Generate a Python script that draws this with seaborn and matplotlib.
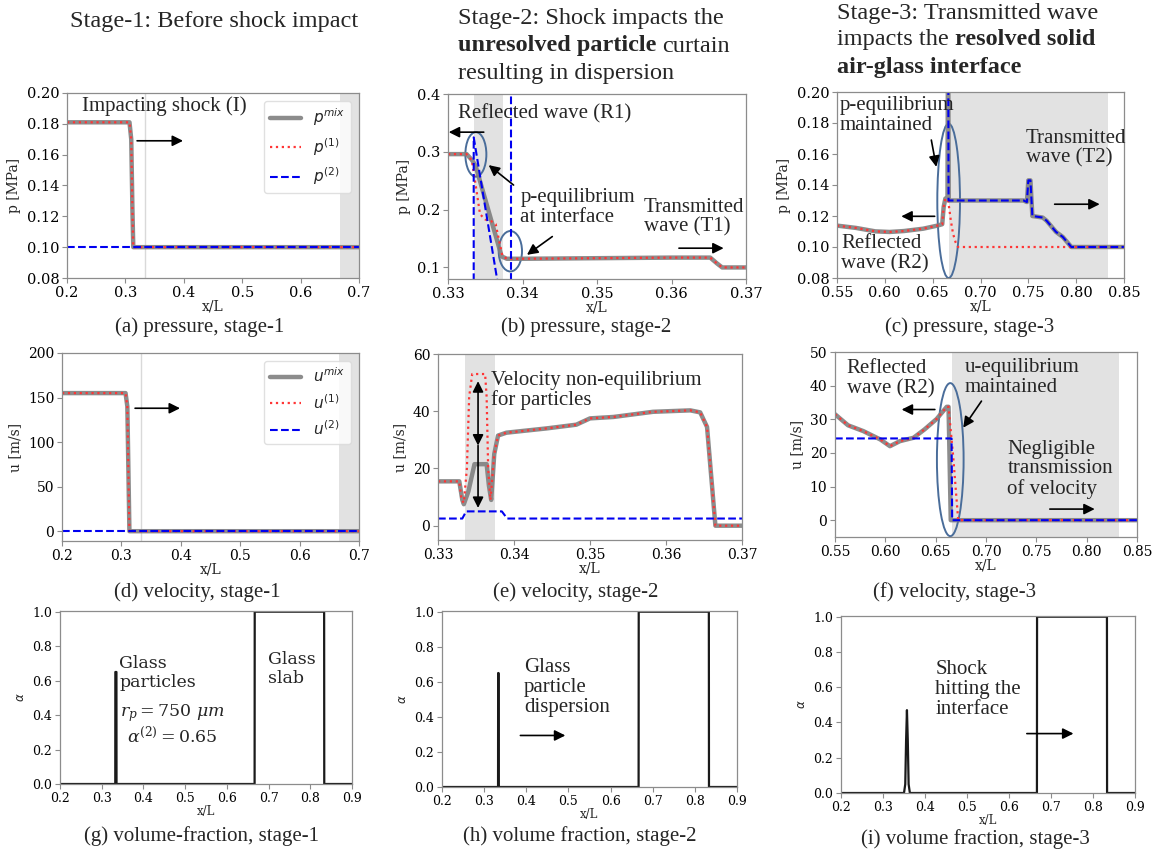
import matplotlib
matplotlib.use("Agg")
import matplotlib.pyplot as plt
from matplotlib.patches import Ellipse
from matplotlib.ticker import FormatStrFormatter
import seaborn as sns

# ---------------- values ----------------
# stage-1 : x/L from 0.2 to 0.7
x_s1 = [0.200, 0.307, 0.310, 0.312, 0.3135, 0.700]
p_mix_s1 = [0.181, 0.181, 0.170, 0.125, 0.100, 0.100]
u_mix_s1 = [155.0, 155.0, 140.0, 60.0, 0.0, 0.0]
x_flat_s1 = [0.200, 0.700]
p_part_s1 = [0.100, 0.100]
u_part_s1 = [0.0, 0.0]

# stage-2 : x/L from 0.33 to 0.37
x_p_s2 = [0.3300, 0.3325, 0.3332, 0.3337, 0.3372, 0.3379, 0.3400, 0.3500,
          0.3600, 0.3652, 0.3661, 0.3668, 0.3700]
p_mix_s2 = [0.296, 0.296, 0.286, 0.276, 0.119, 0.115, 0.115, 0.116,
            0.117, 0.117, 0.107, 0.100, 0.100]
x_p1_s2 = [0.3300, 0.3325, 0.3332, 0.3338, 0.3343, 0.3350, 0.3358, 0.3364,
           0.3368, 0.3373, 0.3379, 0.3400, 0.3500, 0.3600, 0.3652, 0.3661,
           0.3668, 0.3700]
p_gas_s2 = [0.296, 0.296, 0.285, 0.235, 0.192, 0.183, 0.180, 0.175,
            0.150, 0.120, 0.115, 0.115, 0.116, 0.117, 0.117, 0.107,
            0.100, 0.100]
x_p2a_s2 = [0.33345, 0.33345, 0.33665]
p_part_a_s2 = [0.00, 0.325, 0.075]
x_p2b_s2 = [0.33846, 0.33846]
p_part_b_s2 = [0.00, 0.50]

x_u_s2 = [0.3300, 0.3328, 0.3332, 0.3334, 0.3340, 0.3348, 0.3364, 0.3367,
          0.3370, 0.3374, 0.3379, 0.3390, 0.3443, 0.3482, 0.3500, 0.3531,
          0.3583, 0.3632, 0.3645, 0.3654, 0.3665, 0.3700]
u_mix_s2 = [15.5, 15.5, 9.0, 7.5, 12.0, 21.5, 21.5, 14.0,
            9.0, 25.0, 31.5, 32.5, 34.0, 35.3, 37.5, 38.0,
            39.8, 40.3, 39.6, 34.5, 0.0, 0.0]
x_u1_s2 = [0.3300, 0.3328, 0.3331, 0.3334, 0.3338, 0.3341, 0.3345, 0.3348,
           0.3362, 0.3364, 0.3366, 0.3369, 0.3374, 0.3379, 0.3390, 0.3443,
           0.3482, 0.3500, 0.3531, 0.3583, 0.3632, 0.3645, 0.3654, 0.3665,
           0.3700]
u_gas_s2 = [15.5, 15.5, 9.0, 8.0, 20.0, 45.0, 53.0, 53.0,
            53.0, 45.0, 20.0, 9.0, 25.0, 31.5, 32.5, 34.0,
            35.3, 37.5, 38.0, 39.8, 40.3, 39.6, 34.5, 0.0,
            0.0]
x_u2_s2 = [0.3300, 0.3332, 0.3337, 0.3384, 0.3391, 0.3700]
u_part_s2 = [2.5, 2.5, 5.0, 5.0, 2.5, 2.5]

# stage-3 : x/L from 0.55 to 0.85
x_p_s3 = [0.550, 0.570, 0.590, 0.605, 0.620, 0.640, 0.655, 0.660, 0.6615,
          0.6633, 0.6655, 0.6661, 0.6668, 0.745, 0.7485, 0.7500, 0.7522,
          0.7542, 0.765, 0.769, 0.779, 0.786, 0.795, 0.850]
p_mix_s3 = [0.1138, 0.1123, 0.1101, 0.1097, 0.1103, 0.1118, 0.1138, 0.1147, 0.1259,
            0.1313, 0.1315, 0.2600, 0.1300, 0.1300, 0.1290, 0.1430, 0.1430,
            0.1200, 0.1190, 0.1170, 0.1097, 0.1065, 0.1000, 0.1000]
x_p1_s3 = [0.550, 0.570, 0.590, 0.605, 0.620, 0.640, 0.655, 0.660, 0.6615,
           0.6633, 0.6662, 0.6690, 0.6713, 0.6740, 0.6765, 0.850]
p_gas_s3 = [0.1138, 0.1123, 0.1101, 0.1097, 0.1103, 0.1118, 0.1138, 0.1147, 0.1259,
            0.1313, 0.1300, 0.1170, 0.1086, 0.1030, 0.1000, 0.1000]
x_p2_s3 = [0.6662, 0.6666, 0.745, 0.7485, 0.7500, 0.7522, 0.7542, 0.765,
           0.769, 0.779, 0.786, 0.795, 0.850]
p_part_s3 = [0.260, 0.130, 0.130, 0.129, 0.143, 0.143, 0.120, 0.119,
             0.117, 0.1097, 0.1065, 0.100, 0.100]

x_u_s3 = [0.550, 0.563, 0.578, 0.595, 0.6046, 0.6145, 0.628, 0.639, 0.651,
          0.661, 0.6628, 0.6650, 0.6665, 0.850]
u_mix_s3 = [31.5, 28.2, 26.5, 24.0, 22.0, 23.5, 24.5, 27.0, 30.1,
            33.7, 33.7, 0.0, 0.0, 0.0]
x_u1_s3 = [0.550, 0.563, 0.578, 0.595, 0.6046, 0.6145, 0.628, 0.639, 0.651,
           0.661, 0.6628, 0.6655, 0.6674, 0.6700, 0.6724, 0.850]
u_gas_s3 = [31.5, 28.2, 26.5, 24.0, 22.0, 23.5, 24.5, 27.0, 30.1,
            33.7, 33.7, 25.0, 19.0, 9.0, 0.0, 0.0]
x_u2_s3 = [0.550, 0.6658, 0.6664, 0.850]
u_part_s3 = [24.3, 24.3, 0.0, 0.0]

# volume fraction, x/L from 0.2 to 0.9
x_a_s1 = [0.20, 0.3325, 0.3327, 0.3353, 0.3355, 0.6665, 0.6668, 0.8332, 0.8335, 0.90]
a_s1 = [0.0, 0.0, 0.65, 0.65, 0.0, 0.0, 1.0, 1.0, 0.0, 0.0]
x_a_s2 = [0.20, 0.3330, 0.3332, 0.3343, 0.3345, 0.6665, 0.6668, 0.8332, 0.8335, 0.90]
a_s2 = [0.0, 0.0, 0.65, 0.65, 0.0, 0.0, 1.0, 1.0, 0.0, 0.0]
x_a_s3 = [0.20, 0.350, 0.353, 0.355, 0.357, 0.359, 0.361, 0.364,
          0.6665, 0.6668, 0.8332, 0.8335, 0.90]
a_s3 = [0.0, 0.0, 0.05, 0.30, 0.47, 0.30, 0.05, 0.0,
        0.0, 1.0, 1.0, 0.0, 0.0]

# ---------------- styling ----------------
sns.set_theme(style="ticks", rc={
    "axes.edgecolor": "0.55", "axes.linewidth": 0.9,
    "xtick.color": "0.55", "ytick.color": "0.55",
    "xtick.labelcolor": "black", "ytick.labelcolor": "black",
})
plt.rcParams["font.family"] = ["DejaVu Serif"]

TIMES = "Liberation Serif"
GRAY = dict(color="#808080", lw=3.2, alpha=0.9, ls="-")
RED = dict(color="#ff3535", lw=1.6, ls=":")
BLUE = dict(color="#0000f0", lw=1.5, ls="--")
BLACK = dict(color="#1a1a1a", lw=1.6, ls="-")
SHADE = "#e2e2e2"
RING = "#4a6d9a"
ARROW = dict(arrowstyle="-|>", color="black", lw=1.2, mutation_scale=16,
             shrinkA=0, shrinkB=0)

W, H = 1170, 852
fig = plt.figure(figsize=(W / 100, H / 100), dpi=100)


def make_axes(left, right, top, bottom):
    return fig.add_axes([left / W, 1 - bottom / H, (right - left) / W, (bottom - top) / H])


def curve(ax, x, y, style, label=None):
    sns.lineplot(x=x, y=y, ax=ax, sort=False, estimator=None, label=label, **style)


def finish(ax, xlim, ylim, xticks, yticks, xfmt, yfmt, ylabel, tsize, lsize, pad=0):
    ax.set_xlim(xlim)
    ax.set_ylim(ylim)
    ax.set_xticks(xticks)
    ax.set_yticks(yticks)
    ax.xaxis.set_major_formatter(FormatStrFormatter(xfmt))
    ax.yaxis.set_major_formatter(FormatStrFormatter(yfmt))
    ax.tick_params(labelsize=tsize, length=3.5, width=0.8, pad=2)
    ax.set_xlabel("x/L", fontsize=lsize, labelpad=pad)
    ax.set_ylabel(ylabel, fontsize=lsize)


def note(ax, x, y, s, size=15, **kw):
    ax.text(x, y, s, fontsize=size, family=TIMES, ha="left", va="center",
            linespacing=1.05, **kw)


def arrow(ax, tail, head, style=ARROW):
    ax.annotate("", xy=head, xytext=tail, arrowprops=style)


# ---- (a) pressure, stage-1
ax = make_axes(67, 359, 93, 278)
ax.axvspan(0.6667, 0.70, color=SHADE, lw=0)
ax.axvline(0.3333, color="0.85", lw=1.0)
curve(ax, x_s1, p_mix_s1, GRAY, r"$p^{mix}$")
curve(ax, x_s1, p_mix_s1, RED, r"$p^{(1)}$")
curve(ax, x_flat_s1, p_part_s1, BLUE, r"$p^{(2)}$")
ax.legend(loc="upper right", fontsize=11, framealpha=0.8, edgecolor="0.85")
finish(ax, (0.2, 0.7), (0.08, 0.20), [0.2, 0.3, 0.4, 0.5, 0.6, 0.7],
       [0.08, 0.10, 0.12, 0.14, 0.16, 0.18, 0.20], "%.1f", "%.2f", "p [MPa]", 10.5, 10)
note(ax, 0.2257, 0.1916, "Impacting shock (I)")
arrow(ax, (0.320, 0.169), (0.3987, 0.169))

# ---- (b) pressure, stage-2
ax = make_axes(448, 746, 94, 279)
ax.axvspan(0.33353, 0.33738, color=SHADE, lw=0)
curve(ax, x_p_s2, p_mix_s2, GRAY)
curve(ax, x_p1_s2, p_gas_s2, RED)
curve(ax, x_p2a_s2, p_part_a_s2, BLUE)
curve(ax, x_p2b_s2, p_part_b_s2, BLUE)
ax.add_patch(Ellipse((0.33374, 0.2955), 0.00282, 0.077, fill=False, ec=RING, lw=1.4))
ax.add_patch(Ellipse((0.33837, 0.128), 0.00313, 0.070, fill=False, ec=RING, lw=1.4))
finish(ax, (0.33, 0.37), (0.08, 0.40), [0.33, 0.34, 0.35, 0.36, 0.37],
       [0.1, 0.2, 0.3, 0.4], "%.2f", "%.1f", "p [MPa]", 10.5, 10)
note(ax, 0.3313, 0.366, "Reflected wave (R1)")
arrow(ax, (0.3348, 0.334), (0.3301, 0.334))
note(ax, 0.3397, 0.204, "p-equilibrium\nat interface")
arrow(ax, (0.3388, 0.2425), (0.33546, 0.277))
arrow(ax, (0.3440, 0.1534), (0.3406, 0.1218))
note(ax, 0.3563, 0.1865, "Transmitted\nwave (T1)")
arrow(ax, (0.3610, 0.1333), (0.3670, 0.1333))

# ---- (c) pressure, stage-3
ax = make_axes(837, 1124, 92, 278)
ax.axvspan(0.6667, 0.8333, color=SHADE, lw=0)
curve(ax, x_p_s3, p_mix_s3, GRAY)
curve(ax, x_p1_s3, p_gas_s3, RED)
curve(ax, x_p2_s3, p_part_s3, BLUE)
ax.add_patch(Ellipse((0.6667, 0.1298), 0.0237, 0.0996, fill=False, ec=RING, lw=1.4))
finish(ax, (0.55, 0.85), (0.08, 0.20), [0.55, 0.60, 0.65, 0.70, 0.75, 0.80, 0.85],
       [0.08, 0.10, 0.12, 0.14, 0.16, 0.18, 0.20], "%.2f", "%.2f", "p [MPa]", 10.5, 10)
note(ax, 0.5528, 0.185, "p-equilibrium\nmaintained")
arrow(ax, (0.6486, 0.169), (0.6538, 0.1517))
note(ax, 0.7472, 0.1636, "Transmitted\nwave (T2)")
arrow(ax, (0.7775, 0.1276), (0.8246, 0.1276))
note(ax, 0.5545, 0.0957, "Reflected\nwave (R2)")
arrow(ax, (0.6521, 0.1198), (0.6172, 0.1198))

# ---- (d) velocity, stage-1
ax = make_axes(62, 359, 353, 541)
ax.axvspan(0.6667, 0.70, color=SHADE, lw=0)
ax.axvline(0.3333, color="0.85", lw=1.0)
curve(ax, x_s1, u_mix_s1, GRAY, r"$u^{mix}$")
curve(ax, x_s1, u_mix_s1, RED, r"$u^{(1)}$")
curve(ax, x_flat_s1, u_part_s1, BLUE, r"$u^{(2)}$")
ax.legend(loc="upper right", fontsize=11, framealpha=0.8, edgecolor="0.85")
finish(ax, (0.2, 0.7), (-11, 200), [0.2, 0.3, 0.4, 0.5, 0.6, 0.7],
       [0, 50, 100, 150, 200], "%.1f", "%d", "u [m/s]", 10, 10)
arrow(ax, (0.323, 138), (0.3987, 138))

# ---- (e) velocity, stage-2
ax = make_axes(438, 742, 354, 540)
ax.axvspan(0.33352, 0.33747, color=SHADE, lw=0)
curve(ax, x_u_s2, u_mix_s2, GRAY)
curve(ax, x_u1_s2, u_gas_s2, RED)
curve(ax, x_u2_s2, u_part_s2, BLUE)
finish(ax, (0.33, 0.37), (-5, 60), [0.33, 0.34, 0.35, 0.36, 0.37],
       [0, 20, 40, 60], "%.2f", "%d", "u [m/s]", 10, 10)
arrow(ax, (0.33527, 28), (0.33527, 50.5),
      dict(ARROW, arrowstyle="<|-|>"))
arrow(ax, (0.33527, 28), (0.33527, 6.2))
note(ax, 0.33703, 47.25, "Velocity non-equilibrium\nfor particles")

# ---- (f) velocity, stage-3
ax = make_axes(835, 1137, 352, 537)
ax.axvspan(0.6664, 0.8325, color=SHADE, lw=0)
curve(ax, x_u_s3, u_mix_s3, GRAY)
curve(ax, x_u1_s3, u_gas_s3, RED)
curve(ax, x_u2_s3, u_part_s3, BLUE)
ax.add_patch(Ellipse((0.6645, 18.0), 0.0265, 45.5, fill=False, ec=RING, lw=1.4))
finish(ax, (0.55, 0.85), (-5, 50), [0.55, 0.60, 0.65, 0.70, 0.75, 0.80, 0.85],
       [0, 10, 20, 30, 40, 50], "%.2f", "%d", "u [m/s]", 10, 10)
note(ax, 0.5616, 42.0, "Reflected\nwave (R2)")
arrow(ax, (0.6492, 32.9), (0.6162, 32.9))
note(ax, 0.679, 42.5, "u-equilibrium\nmaintained")
arrow(ax, (0.6955, 35.4), (0.6774, 27.5))
note(ax, 0.7213, 15.1, "Negligible\ntransmission\nof velocity")
arrow(ax, (0.7634, 3.3), (0.808, 3.3))

# ---- (g)-(i) volume fraction
alpha_axes = [
    (make_axes(60, 352, 611, 784), x_a_s1, a_s1),
    (make_axes(442, 737, 611, 787), x_a_s2, a_s2),
    (make_axes(841, 1135, 616, 793), x_a_s3, a_s3),
]
for ax, xs, ys in alpha_axes:
    curve(ax, xs, ys, BLACK)
    finish(ax, (0.2, 0.9), (0.0, 1.004), [0.2, 0.3, 0.4, 0.5, 0.6, 0.7, 0.8, 0.9],
           [0.0, 0.2, 0.4, 0.6, 0.8, 1.0], "%.1f", "%.1f", r"$\alpha$", 9, 8.5, pad=0)

ax = alpha_axes[0][0]
ax.text(0.342, 0.644, "Glass\nparticles", fontsize=12.5, ha="left", va="center", linespacing=1.15)
ax.text(0.345, 0.409, r"$r_p = 750\ \mu m$", fontsize=12.5, ha="left", va="center",
        math_fontfamily="dejavuserif")
ax.text(0.360, 0.274, r"$\alpha^{(2)} = 0.65$", fontsize=12.5, ha="left", va="center",
        math_fontfamily="dejavuserif")
ax.text(0.699, 0.668, "Glass\nslab", fontsize=12.5, ha="left", va="center", linespacing=1.15)

ax = alpha_axes[1][0]
note(ax, 0.394, 0.568, "Glass\nparticle\ndispersion")
arrow(ax, (0.386, 0.294), (0.4927, 0.294))

ax = alpha_axes[2][0]
note(ax, 0.4244, 0.587, "Shock\nhitting the\ninterface")
arrow(ax, (0.6425, 0.337), (0.7535, 0.337))

# ---------------- captions and stage headings ----------------
captions = [
    ("(a) pressure, stage-1", 200, 332), ("(b) pressure, stage-2", 586, 332),
    ("(c) pressure, stage-3", 970, 332), ("(d) velocity, stage-1", 197, 597),
    ("(e) velocity, stage-2", 576, 597), ("(f) velocity, stage-3", 955, 597),
    ("(g) volume-fraction, stage-1", 202, 841), ("(h) volume fraction, stage-2", 580, 841),
    ("(i) volume fraction, stage-3", 975, 844),
]
for text, cx, cy in captions:
    fig.text(cx / W, 1 - cy / H, text, fontsize=15, family=TIMES, ha="center", va="baseline")

renderer = fig.canvas.get_renderer()
HEAD = 17.5
SPACE = 0.25 * HEAD * 100 / 72


def heading(x_px, y_px, parts):
    for text, weight in parts:
        t = fig.text(x_px / W, 1 - y_px / H, text, fontsize=HEAD, fontweight=weight,
                     family=TIMES, ha="left", va="baseline")
        x_px += t.get_window_extent(renderer).width + SPACE


heading(70, 27, [("Stage-1: Before shock impact", "normal")])
heading(458, 24, [("Stage-2: Shock impacts the", "normal")])
heading(458, 51.5, [("unresolved particle", "bold"), ("curtain", "normal")])
heading(458, 79, [("resulting in dispersion", "normal")])
heading(837, 19, [("Stage-3: Transmitted wave", "normal")])
heading(837, 45, [("impacts the", "normal"), ("resolved solid", "bold")])
heading(837, 73, [("air-glass interface", "bold")])

fig.savefig("out.png", dpi=100)
